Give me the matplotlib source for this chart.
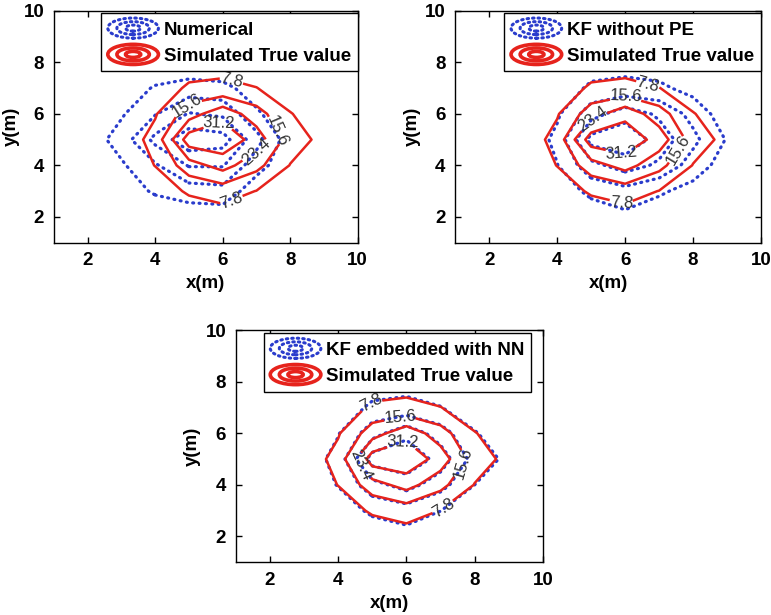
import numpy as np
import matplotlib
matplotlib.use("Agg")
import matplotlib.pyplot as plt
from matplotlib.legend_handler import HandlerBase
from matplotlib.patches import Ellipse
from matplotlib.lines import Line2D

plt.rcParams['font.family'] = ['Liberation Sans', 'DejaVu Sans']

# grid nodes (m) and contour levels
x_nodes = [2, 3, 4, 5, 6, 7, 8, 9, 10]
y_nodes = [1, 2, 3, 4, 5, 6, 7, 8, 9]
levels = [7.8, 15.6, 23.4, 31.2]

# concentration on the grid, rows = y from 1 to 9, columns = x from 2 to 10
true_field = [
    [0, 0, 0, 0, 0, 0, 0, 0, 0],
    [0, 0.5, 0.5, 2, 4.3, 2, 0.5, 0, 0],
    [0, 0.5, 3, 9, 11.2, 7.6, 3, 1, 0],
    [0, 2, 8, 20, 26.5, 18, 7.5, 3, 0],
    [0, 2.8, 10.6, 35.5, 37.1, 27.9, 11.9, 5.4, 0],
    [0, 1, 7.1, 19.8, 28.7, 19, 8.2, 3, 0],
    [0, 0, 2, 9.3, 9.5, 8.0, 3, 1, 0],
    [0, 0, 0, 2.5, 5.1, 2, 0, 0, 0],
    [0, 0, 0, 0, 0, 0, 0, 0, 0],
]

numerical_field = [
    [0, 0, 0, 0, 0, 0, 0, 0, 0],
    [0, 0.5, 1, 3, 3, 1, 0, 0, 0],
    [0.5, 3, 9, 11.7, 13, 3, 0, 0, 0],
    [1, 6.7, 14.6, 24, 24, 11, 2, 0, 0],
    [3.3, 11.3, 25.7, 36.7, 34.7, 18.7, 3.2, 0.5, 0],
    [1, 6.9, 15.1, 24, 21.8, 9, 2, 0, 0],
    [0, 2, 8.74, 11, 10, 4, 0.5, 0, 0],
    [0, 0, 0, 2, 1, 0, 0, 0, 0],
    [0, 0, 0, 0, 0, 0, 0, 0, 0],
]

kf_no_pe_field = [
    [0, 0, 0, 0, 0, 0, 0, 0, 0],
    [0, 0, 0.5, 2.5, 5.8, 3, 1, 0, 0],
    [0, 0.5, 2.5, 10, 13, 9, 5, 1, 0],
    [0, 0.5, 7.5, 21, 27, 22, 12, 4, 0],
    [0, 1, 10, 34, 37, 28, 17.7, 7.2, 0],
    [0, 0.5, 6.5, 20, 28, 22, 13, 3, 0],
    [0, 0, 2, 9.5, 10, 9.5, 5, 1, 0],
    [0, 0, 0, 3, 5, 3, 1, 0, 0],
    [0, 0, 0, 0, 0, 0, 0, 0, 0],
]

kf_nn_field = [
    [0, 0, 0, 0, 0, 0, 0, 0, 0],
    [0, 0.5, 0.5, 2.3, 4.8, 2.2, 0.5, 0, 0],
    [0, 0.5, 3.2, 9.4, 11.6, 7.9, 3, 1, 0],
    [0, 2, 8.2, 20.5, 26.8, 18.5, 7.8, 3, 0],
    [0, 2.6, 10.8, 35, 37.4, 28.3, 12.3, 5.9, 0],
    [0, 1, 7.3, 20.2, 29, 19.3, 8.4, 3, 0],
    [0, 0, 2, 9.6, 9.7, 8.1, 3, 1, 0],
    [0, 0, 0, 2.5, 5.3, 2, 0, 0, 0],
    [0, 0, 0, 0, 0, 0, 0, 0, 0],
]

estimate_names = ["Numerical", "KF without PE", "KF embedded with NN"]
estimate_fields = [numerical_field, kf_no_pe_field, kf_nn_field]
true_name = "Simulated True value"

# where the contour labels sit, roughly as in the paper figure
label_spots = [
    [(6.3, 7.5), (6.3, 2.5), (4.95, 6.3), (7.8, 5.5), (5.9, 5.6), (7.1, 4.3)],
    [(6.7, 7.3), (5.9, 2.6), (6.0, 6.6), (7.8, 4.4), (5.0, 5.9), (5.9, 4.5)],
    [(5.0, 7.1), (7.2, 2.9), (5.8, 6.7), (7.7, 4.8), (4.6, 4.7), (5.9, 5.6)],
]

BLUE = "#2a3ccc"
RED = "#e6231c"


class ContourIcon(HandlerBase):
    # little concentric ellipses, like the matlab contour legend icon
    def __init__(self, color, dotted):
        super().__init__()
        self.color = color
        self.dotted = dotted

    def create_artists(self, legend, orig_handle, xdescent, ydescent,
                       width, height, fontsize, trans):
        cx = width / 2 - xdescent
        cy = height / 2 - ydescent
        arts = []
        for f in (1.0, 0.64, 0.3):
            e = Ellipse((cx, cy), width * f, height * 1.2 * f, fill=False,
                        edgecolor=self.color, lw=2.6 if not self.dotted else 2.2,
                        transform=trans)
            if self.dotted:
                e.set_linestyle((0, (0.5, 1.3)))
                e.set_capstyle("round")
            arts.append(e)
        return arts


fig = plt.figure(figsize=(7.71, 6.15), dpi=100)
axes_pos = [
    [0.070, 0.6054, 0.394, 0.377],
    [0.5905, 0.6054, 0.3965, 0.377],
    [0.306, 0.0857, 0.398, 0.3776],
]
legend_anchor = [(1.0, 0.99), (1.0, 0.99), (0.963, 0.986)]

X, Y = np.meshgrid(x_nodes, y_nodes)

for i in range(3):
    ax = fig.add_axes(axes_pos[i])
    est = ax.contour(X, Y, np.array(estimate_fields[i]), levels=levels,
                     colors=BLUE, linewidths=2.3)
    est.set_linestyle((0, (0.3, 1.7)))
    est.set_capstyle("round")
    tru = ax.contour(X, Y, np.array(true_field), levels=levels,
                     colors=RED, linewidths=1.8)
    ax.clabel(tru, fmt="%.1f", fontsize=12, colors="#333333",
              inline=True, inline_spacing=2, manual=label_spots[i])

    ax.set_xlim(1, 10)
    ax.set_ylim(1, 10)
    ax.set_xticks([2, 4, 6, 8, 10])
    ax.set_yticks([2, 4, 6, 8, 10])
    ax.tick_params(direction="in", top=True, right=True, length=4,
                   width=1, labelsize=13.5, pad=7)
    for lab in ax.get_xticklabels() + ax.get_yticklabels():
        lab.set_fontweight("bold")
    ax.set_xlabel("x(m)", fontsize=13.5, fontweight="bold", labelpad=4)
    ax.set_ylabel("y(m)", fontsize=13.5, fontweight="bold", labelpad=3)
    for sp in ax.spines.values():
        sp.set_linewidth(1.0)

    h_est = Line2D([], [], color=BLUE)
    h_tru = Line2D([], [], color=RED)
    leg = ax.legend([h_est, h_tru], [estimate_names[i], true_name],
                    handler_map={h_est: ContourIcon(BLUE, True),
                                 h_tru: ContourIcon(RED, False)},
                    loc="upper right", bbox_to_anchor=legend_anchor[i],
                    borderaxespad=0, fancybox=False, framealpha=1,
                    edgecolor="black", handlelength=2.7, handleheight=1.0,
                    handletextpad=0.3, borderpad=0.35, labelspacing=0.4,
                    prop={"weight": "bold", "size": 13.5})
    leg.get_frame().set_linewidth(1.0)

fig.savefig("out.png", dpi=100)
